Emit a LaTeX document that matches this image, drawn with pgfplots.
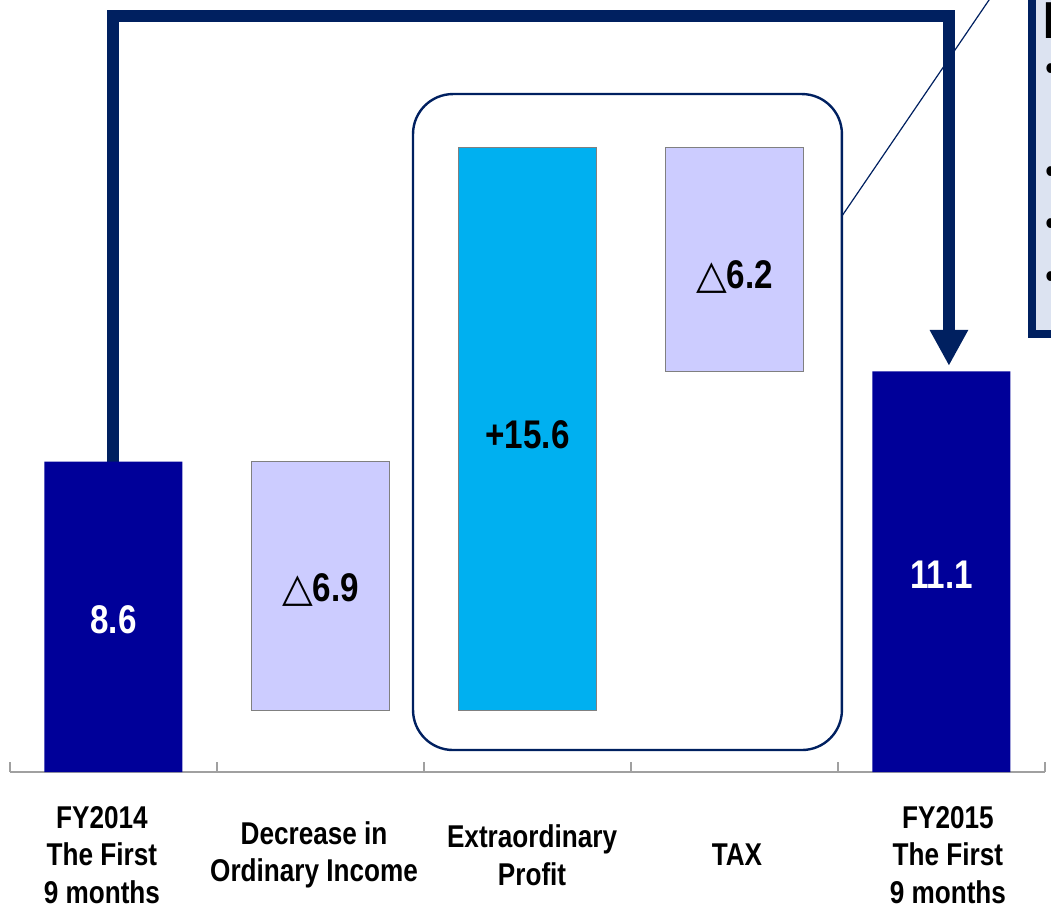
\documentclass[border=0pt]{standalone}
\usepackage{fontspec}
\setmainfont{Liberation Sans}[FakeStretch=0.83]
\newfontfamily\symfont{DejaVu Sans}
\usepackage{pgfplots}
\pgfplotsset{compat=1.18}
\usetikzlibrary{arrows.meta}

\definecolor{navybar}{HTML}{000099}
\definecolor{lavender}{HTML}{CCCCFF}
\definecolor{cyanbar}{HTML}{00B0F0}
\definecolor{darknavy}{HTML}{002060}
\definecolor{edgegray}{HTML}{808080}
\definecolor{axisgray}{HTML}{A0A0A0}
\definecolor{notefill}{HTML}{DCE3F1}

\newcommand{\catfont}{\fontsize{15.75}{18.75}\selectfont\bfseries}
\newcommand{\labelfont}{\bfseries\fontsize{20}{24}\selectfont}
\newcommand{\headfont}{\bfseries\fontsize{26}{30}\selectfont}
\newcommand{\bulfont}{\fontsize{18}{18}\selectfont}

\begin{document}
\begin{tikzpicture}
\useasboundingbox (-5pt,-70pt) rectangle (520.5pt,386pt);
\clip (-5pt,-70pt) rectangle (520.5pt,386pt);
\begin{axis}[
  scale only axis,
  width=517.5pt, height=386pt,
  xmin=-0.5, xmax=4.5, ymin=0, ymax=21.385,
  axis x line*=bottom, axis y line=none,
  x axis line style={-, axisgray, line width=0.8pt},
  xtick={-0.5,0.5,1.5,2.5,3.5,4.5},
  xticklabels={},
  tick align=inside,
  major tick length=5pt,
  xtick style={axisgray, line width=0.8pt},
  ytick=\empty,
  ybar stacked,
  bar width=69pt,
  clip=false,
]
% invisible offsets that lift the floating bars
\addplot[draw=none, fill=none] coordinates {(0,0) (1,1.7) (2,1.7) (3,11.1) (4,0)};
% decreases
\addplot[fill=lavender, draw=edgegray, line width=0.75pt] coordinates {(0,0) (1,6.9) (2,0) (3,6.2) (4,0)};
% increase
\addplot[fill=cyanbar, draw=edgegray, line width=0.75pt] coordinates {(0,0) (1,0) (2,15.6) (3,0) (4,0)};
% totals
\addplot[fill=navybar, draw=none] coordinates {(0,8.6) (1,0) (2,0) (3,0) (4,11.1)};

% frame around the extraordinary items
\draw[darknavy, line width=1.2pt, rounded corners=20pt]
  (axis cs:1.447,0.609) rectangle (axis cs:3.519,18.78);
\draw[darknavy, line width=0.6pt] (axis cs:3.519,15.40) -- (axis cs:4.362,22.5);

% flow arrow from FY2014 to FY2015
\draw[darknavy, line width=6pt, line join=miter, -{Triangle[length=18pt, width=18pt]}]
  (axis cs:0,8.37) |- (axis cs:4.036,20.94) -- (axis cs:4.036,11.25);

% note box
\draw[darknavy, line width=4pt, fill=notefill] (axis cs:4.437,12.13) rectangle (axis cs:5.5,23);

% anchors for the text placed on top
\coordinate (head) at (axis cs:4.49,20.33);
\coordinate (b1) at (axis cs:4.527,19.39);
\coordinate (b2) at (axis cs:4.527,16.54);
\coordinate (b3) at (axis cs:4.527,15.10);
\coordinate (b4) at (axis cs:4.527,13.63);
\coordinate (v0) at (axis cs:0,4.21);
\coordinate (v1) at (axis cs:1,5.04);
\coordinate (v2) at (axis cs:2,9.34);
\coordinate (v3) at (axis cs:3,13.71);
\coordinate (v4) at (axis cs:4,5.46);
\coordinate (c0) at (axis cs:-0.056,0);
\coordinate (c1) at (axis cs:0.969,0);
\coordinate (c2) at (axis cs:2.022,0);
\coordinate (c3) at (axis cs:3.012,0);
\coordinate (c4) at (axis cs:4.031,0);
\end{axis}

% note text
\node[anchor=base west, inner sep=0pt] at (head) {\headfont Extraordinary Profit};
\foreach \b in {b1,b2,b3,b4}
  \node[inner sep=0pt] at (\b) {\bulfont\textbullet};

% value labels
\node[text=white] at (v0) {\labelfont 8.6};
\node at (v1) {\labelfont{\symfont △}6.9};
\node at (v2) {\labelfont +15.6};
\node at (v3) {\labelfont{\symfont △}6.2};
\node[text=white] at (v4) {\labelfont 11.1};

% category labels
\begin{scope}[every node/.style={align=center, font=\catfont, yshift=-41.5pt}]
\node at (c0) {FY2014\\The First\\9 months};
\node at (c1) {Decrease in\\Ordinary Income};
\node at (c2) {Extraordinary\\Profit};
\node at (c3) {TAX};
\node at (c4) {FY2015\\The First\\9 months};
\end{scope}
\end{tikzpicture}
\end{document}
